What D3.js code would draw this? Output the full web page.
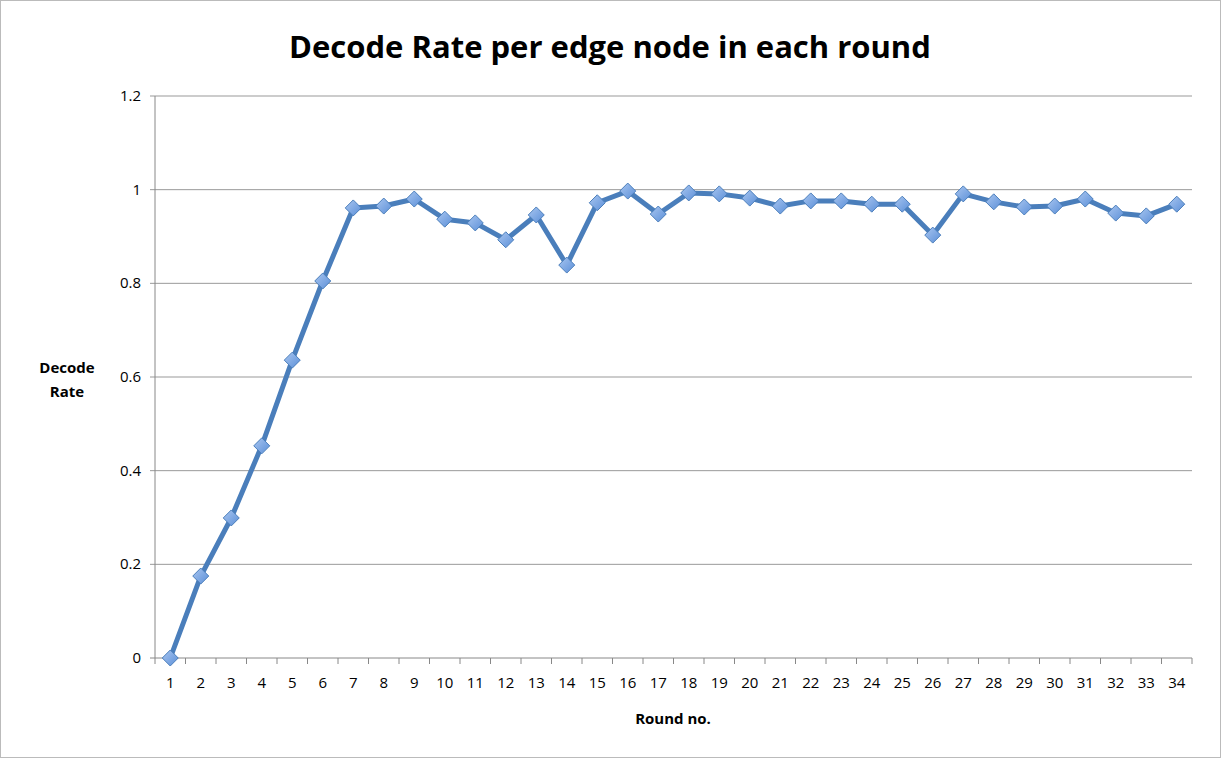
<!DOCTYPE html>
<html><head><meta charset="utf-8">
<script src="https://cdn.jsdelivr.net/npm/d3@7"></script>
<style>body{margin:0;background:#fff}svg{font-family:"Open Sans","Liberation Sans",sans-serif}</style>
</head><body><svg id="c" width="1222" height="759"></svg>
<script>
const rounds = d3.range(1,35);
const decodeRate = [0,0.175,0.299,0.453,0.636,0.805,0.961,0.965,0.98,0.937,0.929,0.893,0.946,0.839,0.972,0.997,0.948,0.993,0.991,0.982,0.965,0.976,0.976,0.969,0.969,0.903,0.991,0.974,0.963,0.965,0.98,0.95,0.944,0.969];
const yTicks = [0,0.2,0.4,0.6,0.8,1,1.2];
const svg = d3.select("#c");
svg.append("rect").attr("x",0.5).attr("y",0.5).attr("width",1220).attr("height",757).attr("fill","#fff").attr("stroke","#bbb");
const L=155,R=1192,T=96,B=658;
const x=d3.scaleBand().domain(rounds).range([L,R]);
const y=d3.scaleLinear().domain([0,1.2]).range([B,T]);
const g=svg.append("g");
yTicks.forEach(t=>{
  g.append("line").attr("x1",L-5).attr("x2",R).attr("y1",y(t)).attr("y2",y(t)).attr("stroke",t===0?"#888":"#999").attr("stroke-width",1);
  g.append("text").attr("x",L-14).attr("y",y(t)+5).attr("text-anchor","end").attr("font-size",15).text(t);
});
g.append("line").attr("x1",L).attr("x2",L).attr("y1",T).attr("y2",B).attr("stroke","#888");
rounds.forEach(r=>{
  const xx=x(r);
  g.append("line").attr("x1",xx).attr("x2",xx).attr("y1",B).attr("y2",B+6).attr("stroke","#888");
  g.append("text").attr("x",xx+x.bandwidth()/2).attr("y",B+30).attr("text-anchor","middle").attr("font-size",15).text(r);
});
g.append("line").attr("x1",R).attr("x2",R).attr("y1",B).attr("y2",B+6).attr("stroke","#888");
const cx=r=>x(r)+x.bandwidth()/2;
const line=d3.line().x((d,i)=>cx(rounds[i])).y(d=>y(d));
svg.append("path").datum(decodeRate).attr("d",line).attr("fill","none").attr("stroke","#4a7ebb").attr("stroke-width",5).attr("stroke-linejoin","round");
const grad=svg.append("defs").append("linearGradient").attr("id","gr").attr("x1",0).attr("y1",0).attr("x2",1).attr("y2",1);
grad.append("stop").attr("offset","0").attr("stop-color","#a9c6f0");
grad.append("stop").attr("offset","1").attr("stop-color","#5b8fd8");
svg.selectAll(".m").data(decodeRate).enter().append("path")
  .attr("d","M0,-8L8,0L0,8L-8,0Z")
  .attr("transform",(d,i)=>`translate(${cx(rounds[i])},${y(d)})`)
  .attr("fill","url(#gr)").attr("stroke","#4a7ebb").attr("stroke-width",1);
svg.append("text").attr("x",610).attr("y",58).attr("text-anchor","middle").attr("font-size",31).attr("font-weight","bold").text("Decode Rate per edge node in each round");
svg.append("text").attr("x",673).attr("y",724).attr("text-anchor","middle").attr("font-size",15).attr("font-weight","bold").text("Round no.");
const yl=svg.append("text").attr("text-anchor","middle").attr("font-size",15).attr("font-weight","bold");
yl.append("tspan").attr("x",67).attr("y",373).text("Decode");
yl.append("tspan").attr("x",67).attr("y",397).text("Rate");
</script></body></html>
